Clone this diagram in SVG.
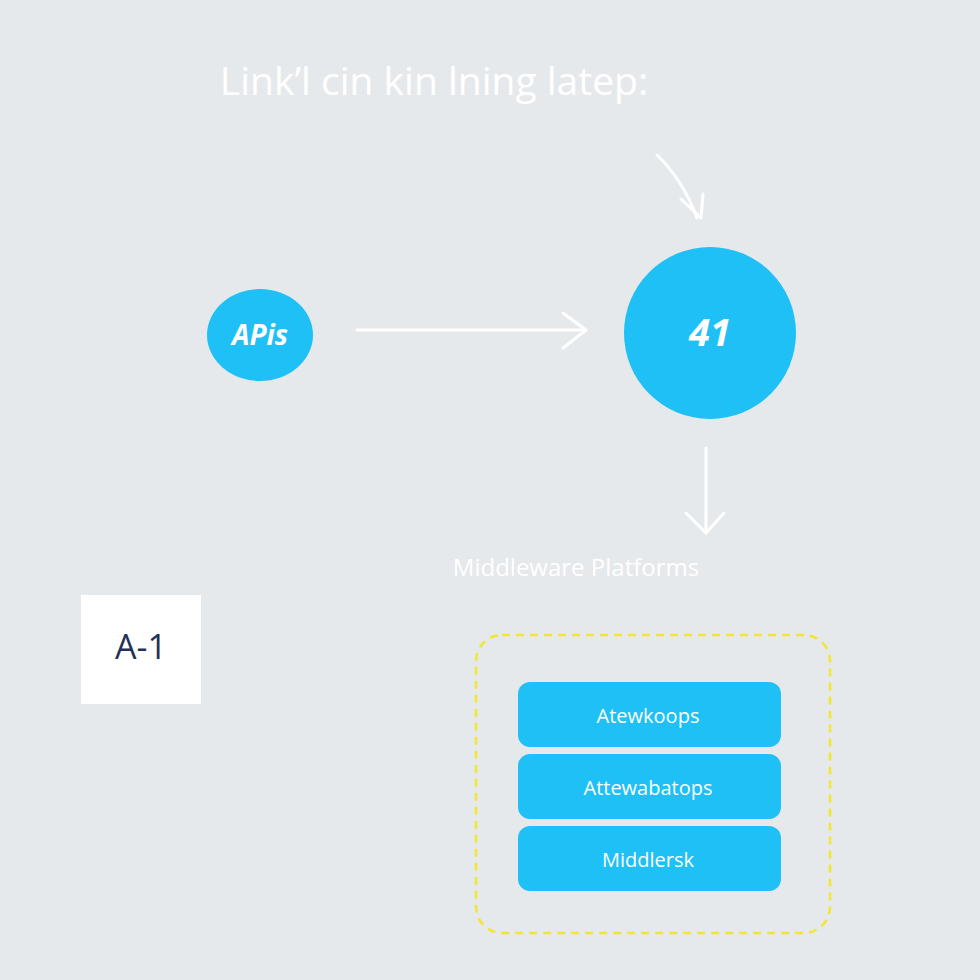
<svg xmlns="http://www.w3.org/2000/svg" width="980" height="980" viewBox="0 0 980 980">
<style>
.w{fill:none;stroke:#fff;stroke-width:3;stroke-linecap:round;stroke-linejoin:round}
.node{fill:#1ec0f5}
.t{font-family:"Open Sans","Liberation Sans",sans-serif;fill:#fff;text-anchor:middle}
</style>
<rect width="980" height="980" fill="#e6e9eb"/>
<text class="t" x="434" y="95" font-size="39">Link’l cin kin lning latep:</text>
<g id="connectors">
<path class="w" d="M657 155 Q683 180 697 218"/>
<path class="w" d="M681 199 L701 218 L703 194"/>
<path class="w" d="M357 330 H586"/>
<path class="w" d="M563 313 L586 330 L563 348"/>
<path class="w" d="M706 448 V533"/>
<path class="w" d="M686 513 L706 533 L724 513"/>
</g>
<g id="apis"><ellipse class="node" cx="260" cy="335" rx="53" ry="46"/><text class="t" x="260" y="345" font-size="28" font-weight="bold" font-style="italic">APis</text></g>
<g id="n41"><circle class="node" cx="710" cy="333" r="86"/><text class="t" x="710" y="346" font-size="38" font-weight="bold" font-style="italic">41</text></g>
<text class="t" x="576" y="576" font-size="24">Middleware Platforms</text>
<g id="a1"><rect x="81" y="595" width="120" height="109" fill="#fff"/><text x="141" y="659" font-size="34" fill="#1f3357" text-anchor="middle" font-family="Open Sans, Liberation Sans, sans-serif">A-1</text></g>
<g id="group"><rect x="476" y="635" width="354" height="298" rx="26" fill="none" stroke="#f2e632" stroke-width="2.5" stroke-dasharray="8 6"/>
<g id="b1"><rect class="node" x="518" y="682" width="263" height="65" rx="12"/><text class="t" x="648" y="723" font-size="20">Atewkoops</text></g>
<g id="b2"><rect class="node" x="518" y="754" width="263" height="65" rx="12"/><text class="t" x="648" y="795" font-size="20">Attewabatops</text></g>
<g id="b3"><rect class="node" x="518" y="826" width="263" height="65" rx="12"/><text class="t" x="648" y="867" font-size="20">Middlersk</text></g>
</g>
</svg>
